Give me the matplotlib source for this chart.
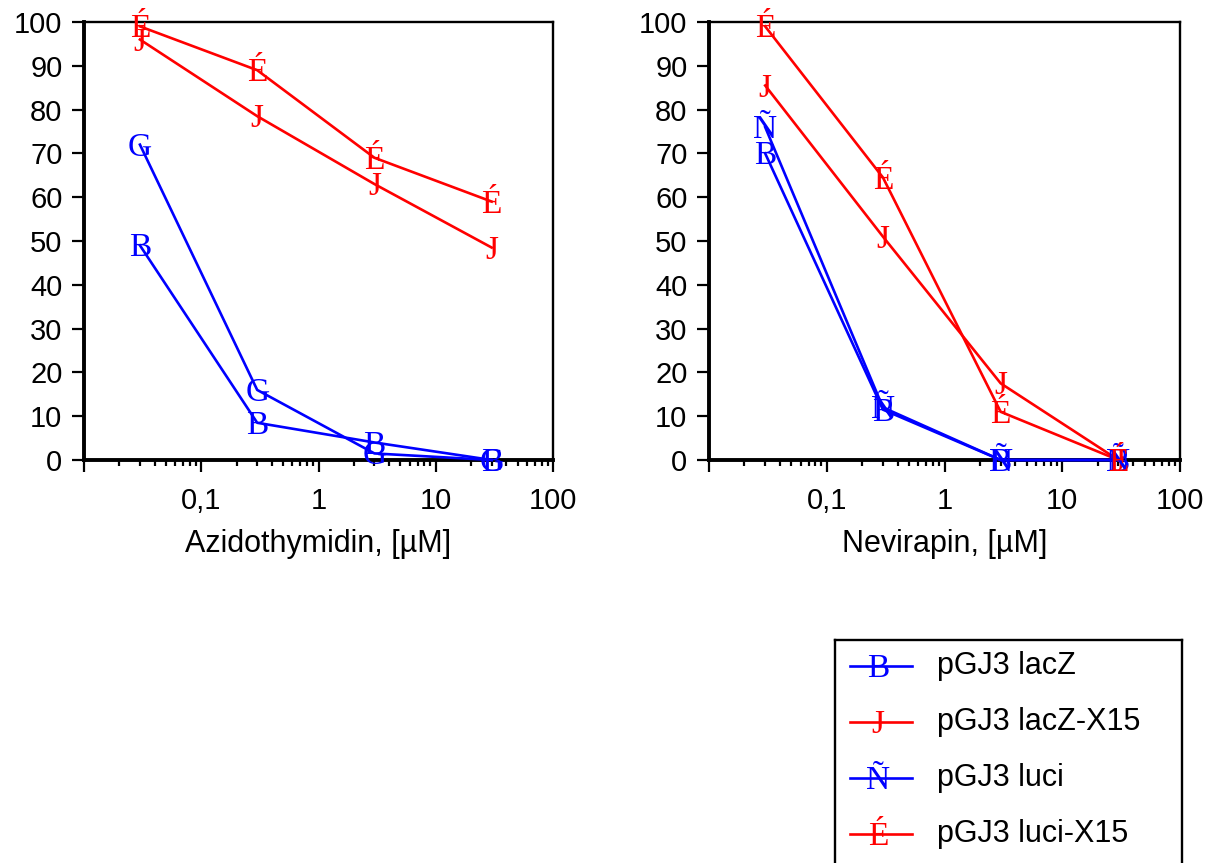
import matplotlib
matplotlib.use('Agg')
import matplotlib.pyplot as plt
import matplotlib.transforms as mtransforms
from matplotlib.ticker import FixedLocator, LogLocator, NullFormatter

#### values (percent vs concentration in uM)
conc = [0.03, 0.3, 3, 30]

labels = ['pGJ3 lacZ', 'pGJ3 lacZ-X15', 'pGJ3 luci', 'pGJ3 luci-X15']
colors = ['#0000ff', '#ff0000', '#0000ff', '#ff0000']
legend_glyphs = ['B', 'J', 'Ñ', 'É']

# Azidothymidin panel
azt_lacz = [49, 8.5, 4, 0]
azt_lacz_x15 = [96, 78.5, 63, 48.5]
azt_luci = [72, 16, 1.5, 0]
azt_luci_x15 = [99, 89, 69, 59]
azt_glyphs = ['B', 'J', 'G', 'É']

# Nevirapin panel
nvp_lacz = [70, 11.5, 0, 0]
nvp_lacz_x15 = [85.5, 51, 17.5, 0]
nvp_luci = [76, 12, 0, 0]
nvp_luci_x15 = [99, 64.5, 11, 0]
nvp_glyphs = ['B', 'J', 'Ñ', 'É']

xticks = [0.01, 0.1, 1, 10, 100]
xticklabels = ['', '0,1', '1', '10', '100']
yticks = list(range(0, 101, 10))

plt.rcParams['font.family'] = ['Liberation Sans', 'DejaVu Sans']
W, H = 1216, 863
fig = plt.figure(figsize=(W / 100, H / 100), dpi=100)

GLYPH_FONT = 'Liberation Serif'
GLYPH_SIZE = 24
CAP = 0.662 * GLYPH_SIZE  # cap height in points
LW = 1.9


def glyph_trans(transform):
    # put the centre of the capital letter on the point
    return transform + mtransforms.ScaledTranslation(0, -CAP / 2 / 72, fig.dpi_scale_trans)


def panel(ax, series, glyphs, xlabel):
    for ys, c in zip(series, colors):
        ax.plot(conc, ys, color=c, lw=LW, zorder=3, clip_on=False)
    tr = glyph_trans(ax.transData)
    for ys, c, g in zip(series, colors, glyphs):
        for x, y in zip(conc, ys):
            ax.text(x, y, g, transform=tr, ha='center', va='baseline',
                    family=GLYPH_FONT, fontsize=GLYPH_SIZE, color=c,
                    zorder=4, clip_on=False)
    ax.set_xscale('log')
    ax.set_xlim(0.01, 100)
    ax.set_ylim(0, 100)
    ax.xaxis.set_major_locator(FixedLocator(xticks))
    ax.set_xticklabels(xticklabels)
    ax.xaxis.set_minor_locator(LogLocator(base=10, subs=range(2, 10)))
    ax.xaxis.set_minor_formatter(NullFormatter())
    ax.set_yticks(yticks)
    ax.tick_params(axis='both', which='major', length=8.5, width=1.6,
                   labelsize=21, direction='out')
    ax.tick_params(axis='x', which='major', pad=11)
    ax.tick_params(axis='y', which='major', pad=7)
    ax.tick_params(axis='x', which='minor', length=4.5, width=1.6)
    ax.tick_params(top=False, right=False, which='both')
    for s in ['left', 'bottom']:
        ax.spines[s].set_linewidth(2.8)
    for s in ['top', 'right']:
        ax.spines[s].set_linewidth(1.7)
    ax.set_xlabel(xlabel, fontsize=22, labelpad=10)


ax1 = fig.add_axes([84 / W, 1 - 460 / H, (553 - 84) / W, (460 - 22) / H])
panel(ax1, [azt_lacz, azt_lacz_x15, azt_luci, azt_luci_x15], azt_glyphs,
      'Azidothymidin, [µM]')

ax2 = fig.add_axes([709 / W, 1 - 460 / H, (1180 - 709) / W, (460 - 22) / H])
panel(ax2, [nvp_lacz, nvp_lacz_x15, nvp_luci, nvp_luci_x15], nvp_glyphs,
      'Nevirapin, [µM]')

### legend box, drawn by hand so the letter markers match the plot
leg = fig.add_axes([835 / W, -45 / H, (1182 - 835) / W, (H - 640 + 45) / H])
leg.set_xlim(835, 1182)
leg.set_ylim(H + 45, 640)
leg.set_xticks([])
leg.set_yticks([])
for s in leg.spines.values():
    s.set_linewidth(1.7)
gtr = glyph_trans(leg.transData)
for i, (lab, c, g) in enumerate(zip(labels, colors, legend_glyphs)):
    yy = 666 + 56 * i
    leg.plot([850, 912], [yy, yy], color=c, lw=LW)
    leg.text(878, yy, g, transform=gtr, ha='center', va='baseline',
             family=GLYPH_FONT, fontsize=GLYPH_SIZE, color=c)
    leg.text(937, yy, lab, ha='left', va='center', fontsize=22)

fig.savefig('out.png', dpi=100)
